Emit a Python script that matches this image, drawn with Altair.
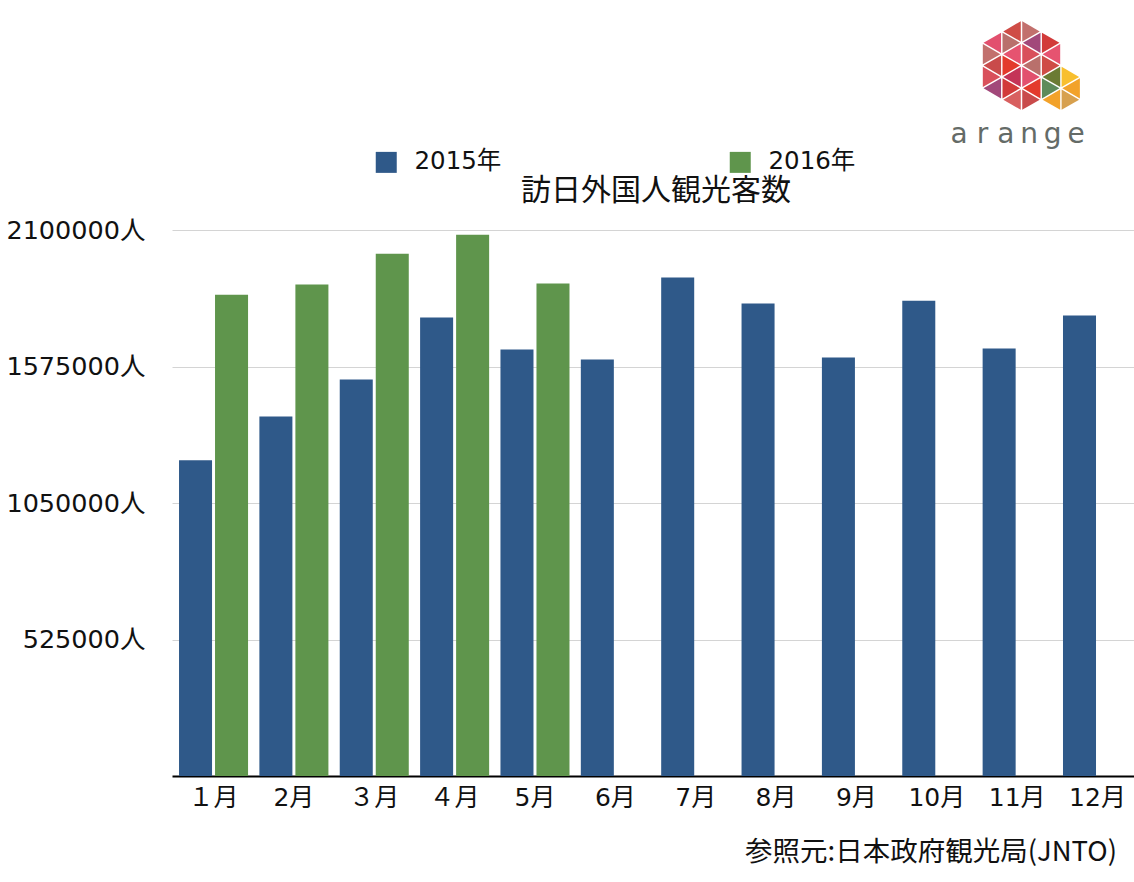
import math
import altair as alt
import pandas as pd

# ---------------- data ----------------
months = ["１月", "2月", "３月", "４月", "5月", "6月", "7月", "8月", "9月", "10月", "11月", "12月"]
years = ["2015年", "2016年"]
v2015 = [1214000, 1383000, 1525000, 1763000, 1640000, 1602000,
         1917000, 1817000, 1610000, 1828000, 1644000, 1771000]
v2016 = [1851000, 1890000, 2009000, 2082000, 1894000]
y_ticks = [525000, 1050000, 1575000, 2100000]
title_text = "訪日外国人観光客数"
source_text = "参照元:日本政府観光局(JNTO)"
logo_word = list("arange")
logo_red = ["#C2706D", "#D9505B", "#E2506E", "#C94B4B", "#A2487A", "#B9706C",
            "#E33A2C", "#D23A3A", "#CF4C46", "#E65370", "#C43357", "#D85F5F"]
logo_mix_in = ["#5E8B5A", "#6B7B33", "#D6B62E"]
logo_mix_out = ["#F2A22A", "#F8BF2E", "#D7A04E"]

BLUE = "#2F5989"
GREEN = "#5F954C"
LATIN = "'DejaVu Sans', 'Noto Sans CJK JP'"
CJK = "'Noto Sans CJK JP'"

rows = []
for i, m in enumerate(months):
    rows.append({"month": m, "year": years[0], "value": v2015[i]})
    if i < len(v2016):
        rows.append({"month": m, "year": years[1], "value": v2016[i]})
df = pd.DataFrame(rows)

# ---------------- main bars ----------------
bars = alt.Chart(df).mark_bar().encode(
    x=alt.X("month:N", sort=months,
            scale=alt.Scale(paddingInner=0.141, paddingOuter=0.056, align=0.78),
            axis=alt.Axis(title=None, labelAngle=0, ticks=False, grid=False,
                          domainColor="#000000", domainWidth=2,
                          labelFont=LATIN, labelFontSize=25, labelColor="#111111",
                          labelPadding=9)),
    xOffset=alt.XOffset("year:N", sort=years,
                        scale=alt.Scale(paddingInner=0.083, paddingOuter=0)),
    y=alt.Y("value:Q", scale=alt.Scale(domain=[0, 2100000], nice=False, zero=True),
            axis=alt.Axis(title=None, values=y_ticks, labelExpr="datum.value + '人'",
                          ticks=False, domain=False, grid=True, gridColor="#D4D4D4",
                          gridWidth=1, labelFont=LATIN, labelFontSize=25.5,
                          labelColor="#111111", labelPadding=27)),
    color=alt.Color("year:N", sort=years,
                    scale=alt.Scale(domain=years, range=[BLUE, GREEN]),
                    legend=alt.Legend(title=None, orient="none", legendX=202, legendY=-80,
                                      direction="horizontal", symbolType="square",
                                      symbolSize=441, symbolStrokeWidth=0,
                                      labelFont=LATIN, labelFontSize=24.5,
                                      labelColor="#111111", labelOffset=16,
                                      columnPadding=226, padding=0)),
)

# ---------------- title & source note ----------------
title = alt.Chart(pd.DataFrame({"t": [title_text]})).mark_text(
    align="center", baseline="middle", font=CJK, fontSize=30, color="#111111"
).encode(x=alt.value(484), y=alt.value(-39), text="t:N")

source = alt.Chart(pd.DataFrame({"t": [source_text]})).mark_text(
    align="right", baseline="middle", font=CJK, fontSize=27.5, color="#111111"
).encode(x=alt.value(945), y=alt.value(623), text="t:N")

# ---------------- logo ----------------
s = 22.75
h = s * math.sqrt(3) / 2
cx, cy = 849.5, -164.5  # big hexagon centre (relative to plot origin)
RIGHT = "M-0.577,-1L1.155,0L-0.577,1Z"
LEFT = "M0.577,-1L-1.155,0L0.577,1Z"

def inside(px, py, ox, oy, R):
    dx, dy = abs(px - ox), abs(py - oy)
    return dx < R * math.sqrt(3) / 2 - 0.01 and dy + dx / math.sqrt(3) < R - 0.01

tris = []
for c in range(-3, 5):
    off = (c % 2) * 0.5
    off2 = ((c + 1) % 2) * 0.5
    for k in range(-5, 6):
        y0 = (k + off) * s
        tris.append((c * h + h / 3, y0 + s / 2, RIGHT))
        y1 = (k + off2) * s
        tris.append((c * h + 2 * h / 3, y1 + s / 2, LEFT))

logo_rows = []
ri = 0
mi_in = 0
mi_out = 0
for (tx, ty, shp) in sorted(tris, key=lambda t: (round(t[0], 2), t[1])):
    in_big = inside(tx, ty, 0, 0, 2 * s)
    in_small = inside(tx, ty, 2 * h, s, s)
    if in_small:
        if in_big:
            col = logo_mix_in[mi_in % 3]; mi_in += 1
        else:
            col = logo_mix_out[mi_out % 3]; mi_out += 1
    elif in_big:
        col = logo_red[ri % len(logo_red)]; ri += 1
    else:
        continue
    logo_rows.append({"px": cx + tx, "py": cy + ty, "shape": shp, "col": col})
logo_df = pd.DataFrame(logo_rows)

logo = alt.Chart(logo_df).mark_point(filled=True, opacity=1, strokeWidth=0).encode(
    x=alt.X("px:Q", scale=None, axis=None),
    y=alt.Y("py:Q", scale=None, axis=None),
    shape=alt.Shape("shape:N", scale=None, legend=None),
    color=alt.Color("col:N", scale=None, legend=None),
    size=alt.value((s - 2.5) ** 2),
)

word_df = pd.DataFrame({"ch": logo_word,
                        "px": [959 - 172 + i * 23.4 for i in range(len(logo_word))],
                        "py": [143 - 230] * len(logo_word)})
word = alt.Chart(word_df).mark_text(
    align="center", baseline="alphabetic", font="'DejaVu Sans'", fontSize=28,
    color="#646B67"
).encode(
    x=alt.X("px:Q", scale=None, axis=None),
    y=alt.Y("py:Q", scale=None, axis=None),
    text="ch:N",
)

chart = alt.layer(bars, title, source, logo, word).resolve_scale(
    x="independent", y="independent", color="independent", shape="independent"
).properties(
    width=962, height=546,
    autosize=alt.AutoSizeParams(type="none"),
    padding={"left": 172, "top": 230, "right": 0, "bottom": 106},
    background="white",
).configure_view(stroke=None)

chart.save("out.html", embed_options={"renderer": "svg", "actions": False})
